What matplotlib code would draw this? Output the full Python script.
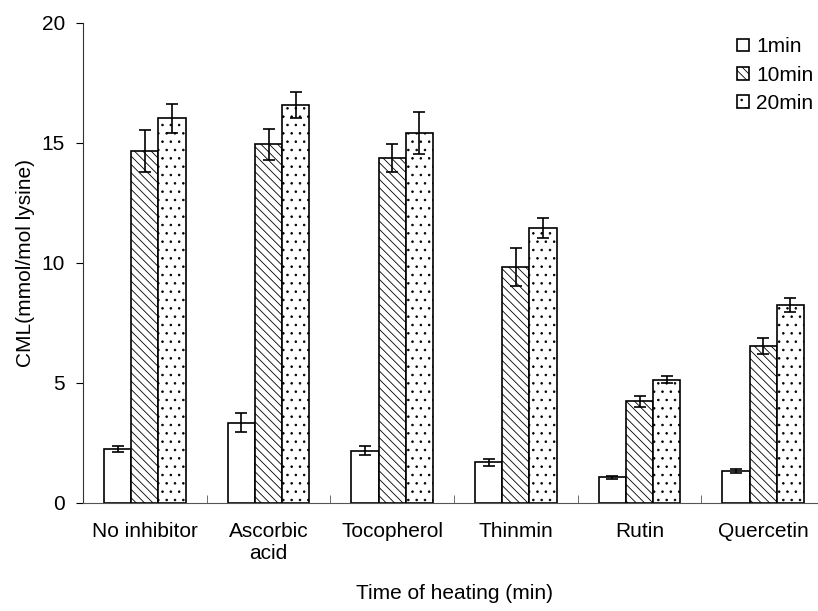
import numpy as np
import matplotlib
matplotlib.use("Agg")
import matplotlib.pyplot as plt

plt.rcParams['font.family'] = ['Liberation Sans', 'DejaVu Sans']
plt.rcParams['hatch.linewidth'] = 0.6

categories = ['No inhibitor', 'Ascorbic\nacid', 'Tocopherol', 'Thinmin', 'Rutin', 'Quercetin']
series = ['1min', '10min', '20min']
vals_1 = [2.25, 3.35, 2.17, 1.69, 1.07, 1.32]
err_1 = [0.13, 0.40, 0.19, 0.15, 0.05, 0.09]
vals_10 = [14.68, 14.94, 14.38, 9.83, 4.24, 6.54]
err_10 = [0.88, 0.64, 0.58, 0.79, 0.22, 0.34]
vals_20 = [16.03, 16.58, 15.42, 11.46, 5.14, 8.24]
err_20 = [0.60, 0.54, 0.87, 0.42, 0.15, 0.30]

hatches = ['', '\\\\\\\\', '..']
FS = 15

fig = plt.figure(figsize=(8.18, 6.11), dpi=100)
ax = fig.add_axes([83/818, 108/611, 742/818, 480/611])

x = np.arange(len(categories))
w = 0.221
for i, (v, e, h, lab) in enumerate(zip([vals_1, vals_10, vals_20], [err_1, err_10, err_20], hatches, series)):
    ax.bar(x + (i - 1) * w, v, w, color='white', edgecolor='black', linewidth=1.2,
           hatch=h, label=lab, yerr=e, capsize=4,
           error_kw=dict(elinewidth=1.2, capthick=1.2, ecolor='black'))

ax.set_xlim(-0.5, len(categories) - 0.5)
ax.set_ylim(0, 20)
ax.set_yticks([0, 5, 10, 15, 20])
ax.set_xticks(x)
ax.set_xticklabels(categories, fontsize=FS)
ax.tick_params(axis='x', length=0, pad=14)
ax.set_xticks(np.arange(0.5, len(categories), 1), minor=True)
ax.tick_params(axis='x', which='minor', direction='in', length=6, color='#555555')
ax.tick_params(axis='y', direction='out', length=5, labelsize=FS, pad=8)
for s in ['top', 'right']:
    ax.spines[s].set_visible(False)
ax.spines['left'].set_color('#333333')
ax.spines['bottom'].set_color('#555555')

ax.set_ylabel('CML(mmol/mol lysine)', fontsize=FS, labelpad=5)
ax.set_xlabel('Time of heating (min)', fontsize=FS, labelpad=15)

ax.legend(loc='upper left', bbox_to_anchor=(729/818, 1 - 29/611), bbox_transform=fig.transFigure,
          frameon=False, fontsize=FS, handlelength=0.55, handleheight=0.55,
          handletextpad=0.35, labelspacing=0.45, borderaxespad=0)

fig.savefig('out.png', dpi=100)
